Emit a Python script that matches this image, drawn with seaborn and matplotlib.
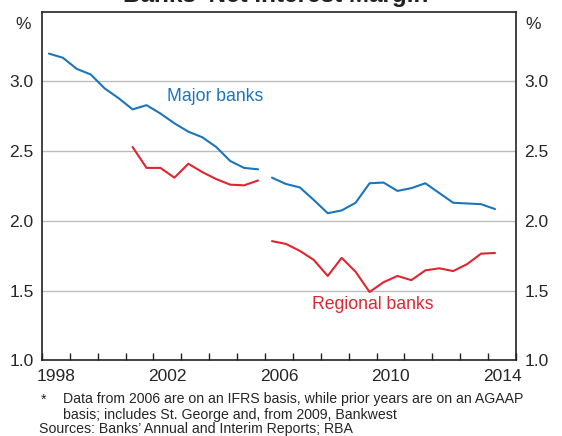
import numpy as np
import pandas as pd
import matplotlib.pyplot as plt
import seaborn as sns

# half-yearly observations, plotted mid-half
major_agaap_years = [1998.25, 1998.75, 1999.25, 1999.75, 2000.25, 2000.75, 2001.25, 2001.75,
                     2002.25, 2002.75, 2003.25, 2003.75, 2004.25, 2004.75, 2005.25, 2005.75]
major_agaap = [3.20, 3.17, 3.09, 3.05, 2.95, 2.88, 2.80, 2.83,
               2.77, 2.70, 2.64, 2.60, 2.53, 2.43, 2.38, 2.37]

regional_agaap_years = [2001.25, 2001.75, 2002.25, 2002.75, 2003.25, 2003.75,
                        2004.25, 2004.75, 2005.25, 2005.75]
regional_agaap = [2.53, 2.38, 2.38, 2.31, 2.41, 2.35, 2.30, 2.26, 2.255, 2.29]

ifrs_years = [2006.25, 2006.75, 2007.25, 2007.75, 2008.25, 2008.75, 2009.25, 2009.75,
              2010.25, 2010.75, 2011.25, 2011.75, 2012.25, 2012.75, 2013.25, 2013.75, 2014.25]
major_ifrs = [2.31, 2.265, 2.24, 2.15, 2.055, 2.075, 2.13, 2.27,
              2.275, 2.215, 2.235, 2.27, 2.20, 2.13, 2.125, 2.12, 2.085]
regional_ifrs = [1.855, 1.835, 1.785, 1.72, 1.605, 1.735, 1.635, 1.49,
                 1.56, 1.605, 1.575, 1.645, 1.66, 1.64, 1.69, 1.765, 1.77]

xtick_labels = ["1998", "2002", "2006", "2010", "2014"]

frames = [
    pd.DataFrame({"year": major_agaap_years, "nim": major_agaap, "bank": "Major", "basis": "AGAAP"}),
    pd.DataFrame({"year": ifrs_years, "nim": major_ifrs, "bank": "Major", "basis": "IFRS"}),
    pd.DataFrame({"year": regional_agaap_years, "nim": regional_agaap, "bank": "Regional", "basis": "AGAAP"}),
    pd.DataFrame({"year": ifrs_years, "nim": regional_ifrs, "bank": "Regional", "basis": "IFRS"}),
]
data = pd.concat(frames, ignore_index=True)

blue = "#1b75bb"
red = "#de2630"
sns.set_style("white")
plt.rcParams['font.family'] = ['Liberation Sans', 'DejaVu Sans']

fig = plt.figure(figsize=(5.62, 4.36), dpi=100)
ax = fig.add_axes([0.0747, 0.1736, 0.8433, 0.7994])

sns.lineplot(data=data, x="year", y="nim", hue="bank", units="basis", estimator=None,
             palette={"Major": blue, "Regional": red}, linewidth=1.5, legend=False, ax=ax)

ax.set_xlim(1998, 2015)
ax.set_ylim(1.0, 3.5)
ax.set_xlabel("")
ax.set_ylabel("")

# grid lines
for v in [1.5, 2.0, 2.5, 3.0]:
    ax.axhline(v, color="#bdbdbd", linewidth=1, zorder=0)

# year ticks on boundaries, labels mid-year
ax.set_xticks(np.arange(1998, 2016, 1))
ax.set_xticklabels([])
ax.set_xticks([int(s) + 0.5 for s in xtick_labels], minor=True)
ax.set_xticklabels(xtick_labels, minor=True, fontsize=12.5)
ax.tick_params(axis="x", which="major", direction="in", length=5, width=1, color="#222222", bottom=True, top=False)
ax.tick_params(axis="x", which="minor", length=0, pad=6)

yt = [1.0, 1.5, 2.0, 2.5, 3.0]
ax.set_yticks(yt)
ax.set_yticklabels([f"{v:.1f}" for v in yt], fontsize=12.5)
ax.tick_params(axis="y", length=0, pad=6, left=True, right=True, labelleft=True, labelright=True)

for s in ax.spines.values():
    s.set_color("#222222")
    s.set_linewidth(1.2)

ax.text(-0.04, 0.985, "%", transform=ax.transAxes, ha="center", va="top", fontsize=12.5)
ax.text(1.036, 0.985, "%", transform=ax.transAxes, ha="center", va="top", fontsize=12.5)

ax.text(2002.5, 2.89, "Major banks", color=blue, fontsize=12.7, va="center")
ax.text(2007.7, 1.40, "Regional banks", color=red, fontsize=12.7, va="center")

# title, cropped at the top like the original
fig.text(0.49, 0.995, "Banks' Net Interest Margin", ha="center", va="baseline",
         fontsize=17.5, fontweight="bold", color="#222222")

fig.text(0.073, 0.075, "*", fontsize=10.2, va="baseline")
fig.text(0.112, 0.075, "Data from 2006 are on an IFRS basis, while prior years are on an AGAAP",
         fontsize=10.2, va="baseline")
fig.text(0.112, 0.040, "basis; includes St. George and, from 2009, Bankwest", fontsize=10.2, va="baseline")
fig.text(0.069, 0.006, "Sources: Banks\u2019 Annual and Interim Reports; RBA", fontsize=10.2, va="baseline")

fig.savefig("out.png", dpi=100)
